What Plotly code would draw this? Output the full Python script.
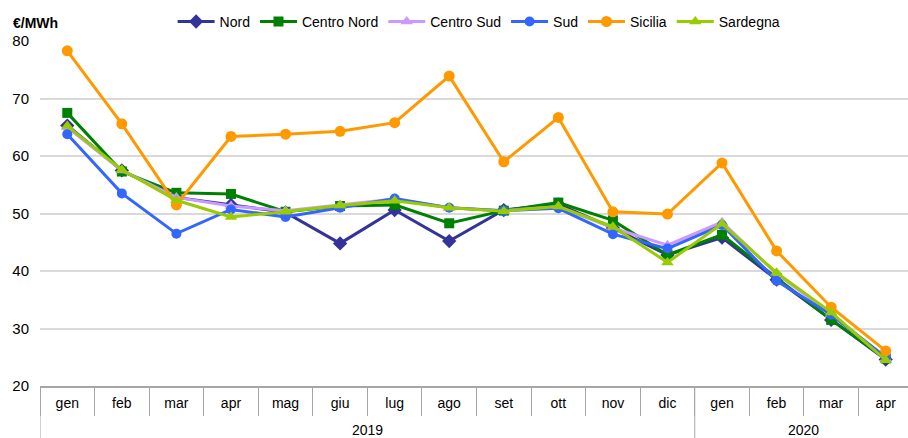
import plotly.graph_objects as go

# ---- data ----
anni = ["2019"] * 12 + ["2020"] * 4
mesi = ["gen", "feb", "mar", "apr", "mag", "giu", "lug", "ago", "set", "ott", "nov", "dic",
        "gen", "feb", "mar", "apr"]

nord = [65.3, 57.5, 52.8, 51.5, 50.2, 44.8, 50.6, 45.2, 50.6, 51.6, 47.5, 42.8, 45.8, 38.5, 31.5, 24.6]
centro_nord = [67.5, 57.3, 53.6, 53.4, 50.3, 51.3, 51.5, 48.3, 50.5, 51.9, 48.8, 42.8, 46.3, 38.8, 31.5, 24.8]
centro_sud = [65.0, 57.5, 52.8, 51.3, 50.5, 51.5, 52.5, 51.0, 50.5, 51.2, 47.5, 44.5, 48.5, 39.5, 32.5, 24.8]
sud = [63.8, 53.5, 46.5, 50.7, 49.4, 51.0, 52.6, 51.0, 50.5, 50.9, 46.4, 43.9, 48.0, 38.3, 32.4, 25.0]
sicilia = [78.3, 65.6, 51.5, 63.4, 63.8, 64.3, 65.8, 73.9, 59.0, 66.7, 50.3, 49.9, 58.8, 43.5, 33.7, 26.1]
sardegna = [65.2, 57.6, 52.3, 49.4, 50.3, 51.4, 52.2, 51.0, 50.4, 51.2, 47.7, 41.5, 48.2, 39.7, 32.8, 24.5]

serie = [
    ("Nord", nord, "#333399", "diamond", 11),
    ("Centro Nord", centro_nord, "#008000", "square", 10),
    ("Centro Sud", centro_sud, "#CC99FF", "triangle-up", 11),
    ("Sud", sud, "#3366FF", "circle", 10),
    ("Sicilia", sicilia, "#FF9900", "circle", 11),
    ("Sardegna", sardegna, "#99CC00", "triangle-up", 11),
]

# categorie univoche (mese-anno), etichettate solo con il mese
categorie = [m + "-" + a for m, a in zip(mesi, anni)]

fig = go.Figure()
for nome, valori, colore, simbolo, dim in serie:
    fig.add_trace(go.Scatter(
        x=categorie, y=valori, name=nome, mode="lines+markers",
        line=dict(color=colore, width=3),
        marker=dict(symbol=simbolo, size=dim, color=colore),
    ))

# separatori e etichette degli anni
h_plot = 438 - 41 - 52
grigio = "#A6A6A6"
for anno in dict.fromkeys(anni):
    idx = [i for i, a in enumerate(anni) if a == anno]
    fig.add_shape(type="line", xref="x", yref="paper", x0=idx[0] - 0.5, x1=idx[0] - 0.5,
                  y0=0, y1=-52 / h_plot, line=dict(color=grigio, width=1))
    fig.add_annotation(text=anno, xref="x", yref="paper", x=(idx[0] + idx[-1]) / 2,
                       y=-44 / h_plot, yanchor="middle", showarrow=False,
                       font=dict(size=14))

fig.add_annotation(text="<b>€/MWh</b>", xref="paper", yref="paper",
                   x=-0.033, y=1 + 18 / h_plot, xanchor="left", yanchor="middle",
                   showarrow=False, font=dict(size=14))

fig.update_layout(
    width=913, height=438,
    margin=dict(l=40, r=0, t=41, b=52),
    plot_bgcolor="white", paper_bgcolor="white",
    font=dict(family="Liberation Sans, Arial", size=14, color="#000000"),
    legend=dict(orientation="h", x=0.503, xanchor="center", y=0.95, yanchor="middle",
                yref="container", font=dict(size=14), itemwidth=37, tracegroupgap=0),
    showlegend=True,
)

fig.update_yaxes(range=[20, 80], dtick=10, showgrid=True, gridcolor="#D9D9D9",
                 gridwidth=1.5, zeroline=False, tickfont=dict(size=15),
                 ticks="", showline=False, automargin=False, ticklabelstandoff=10)
fig.update_xaxes(type="category", range=[-0.5, len(categorie) - 0.5],
                 tickmode="array", tickvals=categorie, ticktext=mesi,
                 tickson="boundaries", ticks="outside", ticklen=28, tickcolor=grigio,
                 showline=True, linecolor=grigio, linewidth=1.5,
                 ticklabelstandoff=3,
                 tickfont=dict(size=14), showgrid=False, automargin=False)

fig.write_html("out.html", config={"displayModeBar": False},
               post_script="document.body.style.margin='0';document.body.style.overflow='hidden';")
